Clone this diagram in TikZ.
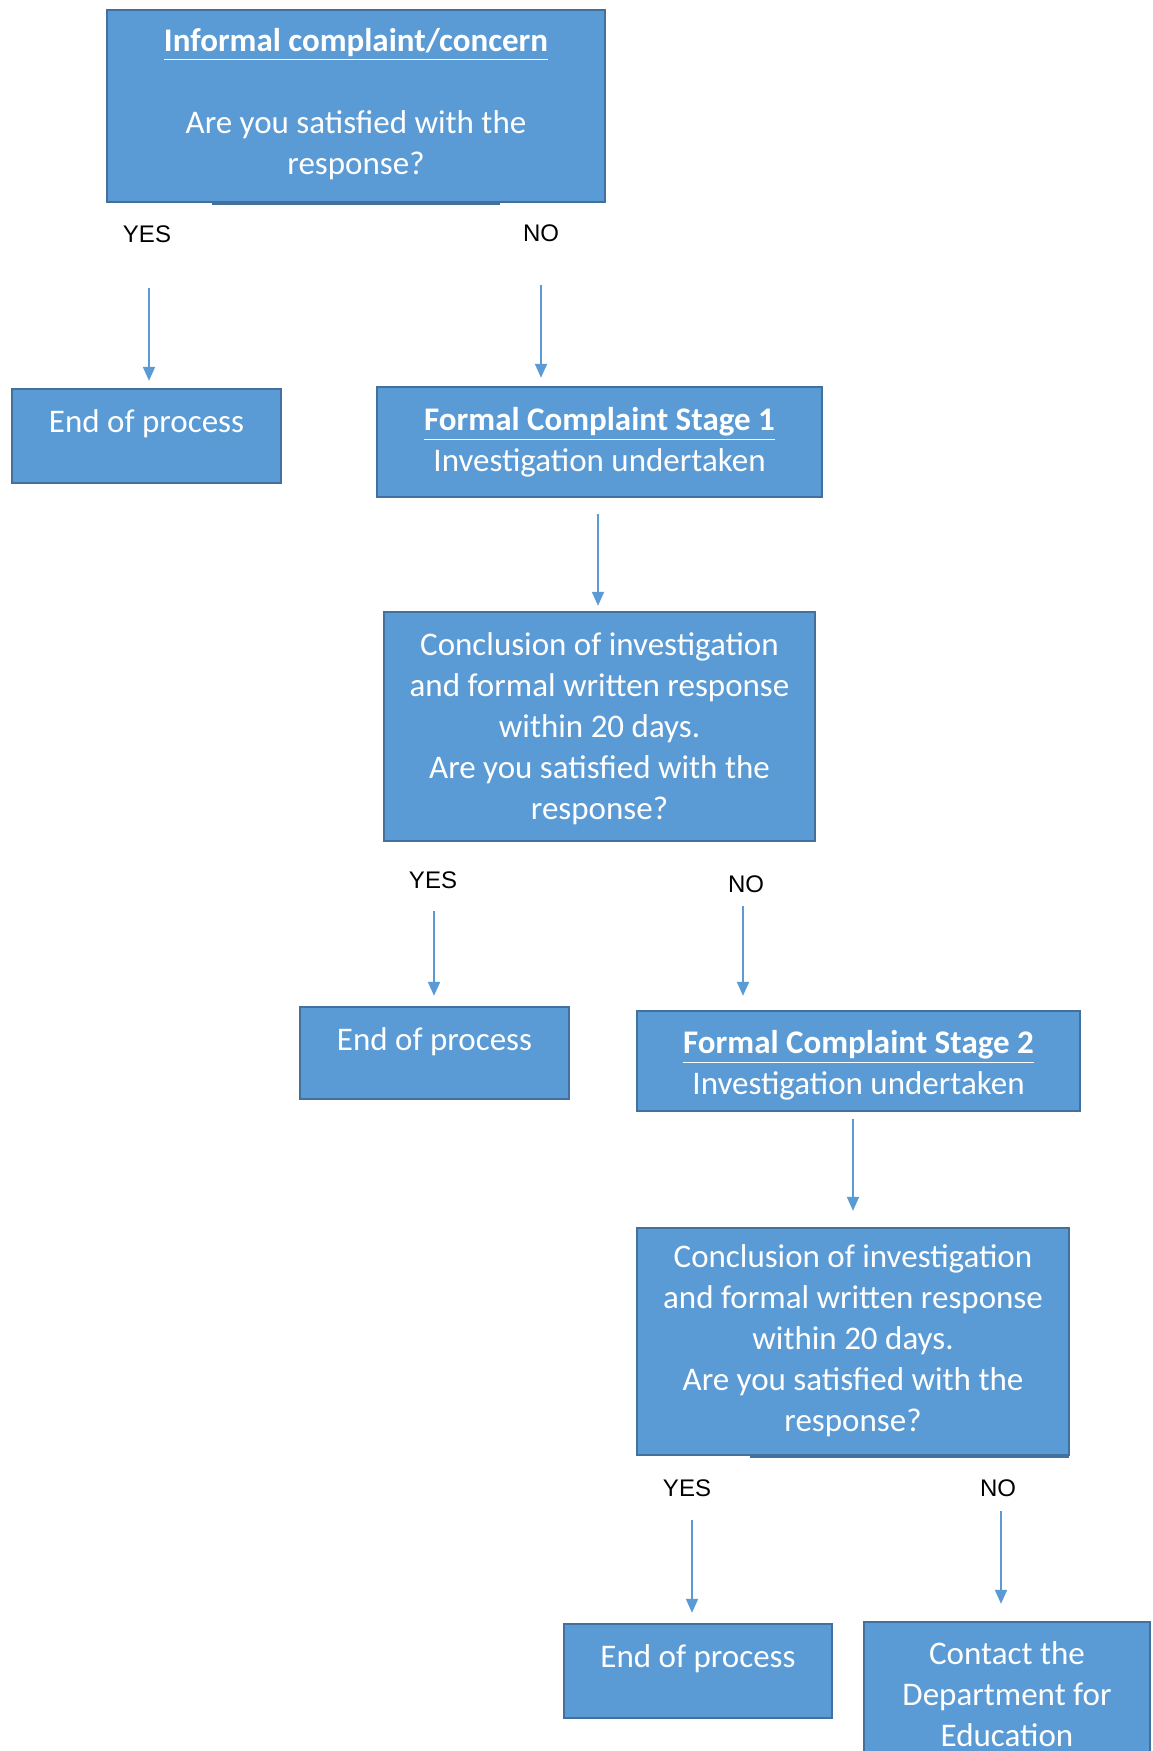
\documentclass[tikz,border=0pt]{standalone}
\usepackage{fontspec}
\setmainfont{Carlito}
\newfontfamily\lbsans{Liberation Sans}
\usetikzlibrary{arrows.meta,fit}
\definecolor{boxfill}{HTML}{5B9BD5}
\definecolor{boxline}{HTML}{41719C}
\begin{document}
\begin{tikzpicture}[x=0.5pt,y=-0.5pt,
  box/.style={draw=boxline, fill=boxfill, line width=1.2pt, inner sep=0pt},
  txt/.style={text=white, font=\fontsize{16.5}{20.5}\selectfont, align=center, inner sep=0pt, anchor=north},
  lbl/.style={font=\lbsans\fontsize{12}{14}\selectfont, inner sep=0pt},
  arr/.style={draw=boxfill, line width=1pt, -{Triangle[length=7pt,width=6pt]}},
  ttl/.style={}]
\useasboundingbox (0,0) rectangle (1152,1751);
% boxes
\node[box, fit={(107,10)(605,202)}] (b1) {};
\fill[boxline] (212,202) rectangle (500,205);
\node[box, fit={(12,389)(281,483)}] (end1) {};
\node[box, fit={(377,387)(822,497)}] (st1) {};
\node[box, fit={(384,612)(815,841)}] (con1) {};
\node[box, fit={(300,1007)(569,1099)}] (end2) {};
\node[box, fit={(637,1011)(1080,1111)}] (st2) {};
\node[box, fit={(637,1228)(1069,1455)}] (con2) {};
\fill[boxline] (750,1455) rectangle (1069,1458);
\node[box, fit={(564,1624)(832,1718)}] (end3) {};
\node[box, fit={(864,1622)(1150,1770)}] (dfe) {};
% texts
\node[txt] (b1t) at (356,28) {\textbf{\underline{Informal complaint/concern}}\\[20.5pt]Are you satisfied with the\\response?};
\node[txt] (end1t) at (146.5,409) {End of process};
\node[txt] (st1t) at (599.5,407) {\textbf{\underline{Formal Complaint Stage 1}}\\Investigation undertaken};
\node[txt] (con1t) at (599.5,632) {Conclusion of investigation\\and formal written response\\within 20 days.\\Are you satisfied with the\\response?};
\node[txt] (end2t) at (434.5,1027) {End of process};
\node[txt] (st2t) at (858.5,1030) {\textbf{\underline{Formal Complaint Stage 2}}\\Investigation undertaken};
\node[txt] (con2t) at (853,1244) {Conclusion of investigation\\and formal written response\\within 20 days.\\Are you satisfied with the\\response?};
\node[txt] (end3t) at (698,1644) {End of process};
\node[txt] (dfet) at (1007,1641) {Contact the\\Department for\\Education};
% labels
\node[lbl] (yes1) at (147,234) {YES};
\node[lbl] (no1) at (541,233) {NO};
\node[lbl] (yes2) at (433,880) {YES};
\node[lbl] (no2) at (746,884) {NO};
\node[lbl] (yes3) at (687,1488) {YES};
\node[lbl] (no3) at (998,1488) {NO};
% arrow starts
\coordinate (s1) at (149,288);
\coordinate (s2) at (541,285);
\coordinate (s3) at (598,514);
\coordinate (s4) at (434,911);
\coordinate (s5) at (743,906);
\coordinate (s6) at (853,1119);
\coordinate (s7) at (692,1520);
\coordinate (s8) at (1001,1511);
% arrows
\draw[arr, shorten >=3.5pt] (s1) -- (s1 |- end1.north);
\draw[arr, shorten >=4pt] (s2) -- (s2 |- st1.north);
\draw[arr, shorten >=2.5pt] (s3) -- (s3 |- con1.north);
\draw[arr, shorten >=5pt] (s4) -- (s4 |- end2.north);
\draw[arr, shorten >=7pt] (s5) -- (s5 |- st2.north);
\draw[arr, shorten >=8pt] (s6) -- (s6 |- con2.north);
\draw[arr, shorten >=5pt] (s7) -- (s7 |- end3.north);
\draw[arr, shorten >=8.5pt] (s8) -- (s8 |- dfe.north);
\end{tikzpicture}
\end{document}
